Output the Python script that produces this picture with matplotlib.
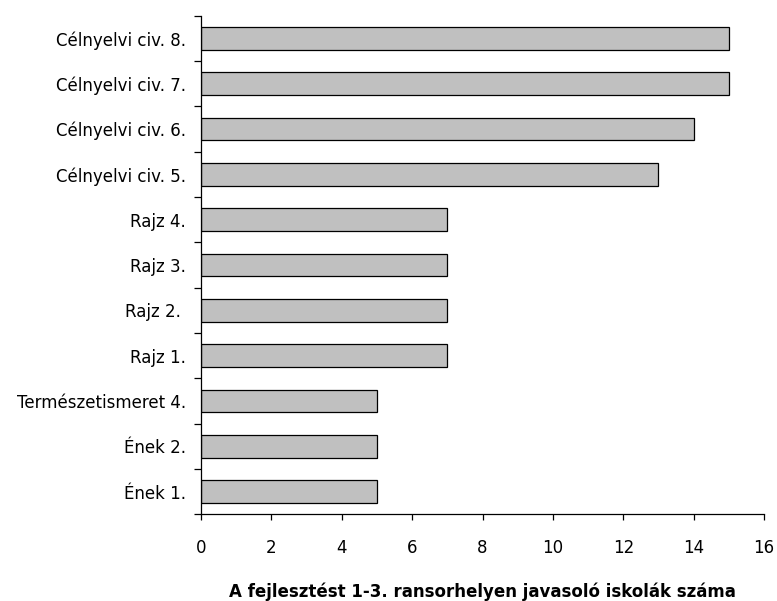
import matplotlib.pyplot as plt
import numpy as np

categories = ['Ének 1.', 'Ének 2.', 'Természetismeret 4.', 'Rajz 1.', 'Rajz 2. ',
              'Rajz 3.', 'Rajz 4.', 'Célnyelvi civ. 5.', 'Célnyelvi civ. 6.',
              'Célnyelvi civ. 7.', 'Célnyelvi civ. 8.']
values = [5, 5, 5, 7, 7, 7, 7, 13, 14, 15, 15]
xticks = [0, 2, 4, 6, 8, 10, 12, 14, 16]

fig = plt.figure(figsize=(7.77, 6.01), dpi=100)
ax = fig.add_axes([0.2587, 0.1443, 0.7246, 0.8296])

y = np.arange(len(categories))
ax.barh(y, values, height=0.505, color='#C0C0C0', edgecolor='black', linewidth=0.9)

ax.set_xlim(0, 16)
ax.set_ylim(-0.5, len(categories) - 0.5)
ax.set_xticks(xticks)
ax.set_xticklabels([str(t) for t in xticks], fontsize=12)
ax.set_yticks(y)
ax.set_yticklabels(categories, fontsize=12)
ax.tick_params(axis='y', which='major', length=0, pad=11)
ax.set_yticks(np.arange(-0.5, len(categories), 1.0), minor=True)
ax.tick_params(axis='y', which='minor', length=5, width=0.9)
ax.tick_params(axis='x', length=4.5, width=0.9, pad=13)

for s in ['top', 'right']:
    ax.spines[s].set_visible(False)
for s in ['left', 'bottom']:
    ax.spines[s].set_linewidth(0.9)

# title sits at the very bottom edge, as in the reference
ax.set_xlabel('A fejlesztést 1-3. ransorhelyen javasoló iskolák száma',
              fontsize=12, fontweight='bold', labelpad=19)

fig.savefig('out.png', dpi=100)
